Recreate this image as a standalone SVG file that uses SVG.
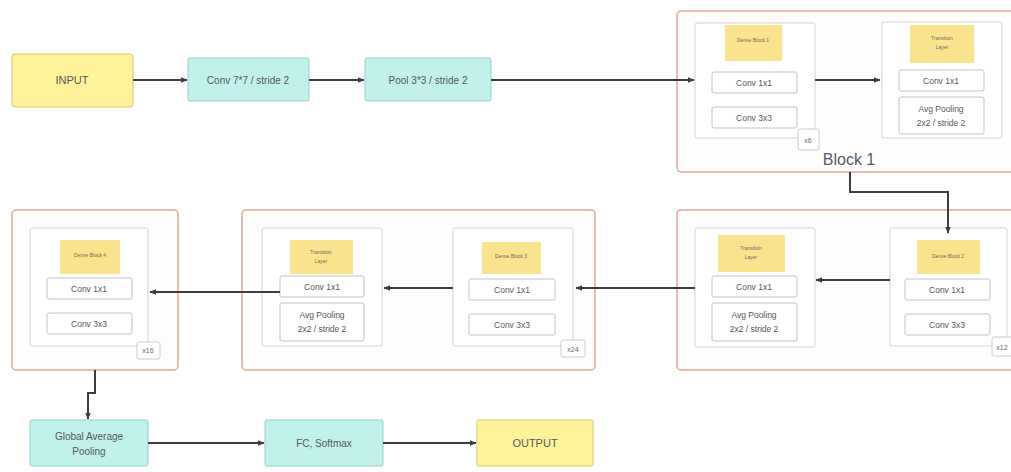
<svg xmlns="http://www.w3.org/2000/svg" width="1011" height="472" viewBox="0 0 1011 472">
<defs>
<marker id="ah" viewBox="0 0 10 10" refX="9" refY="5" markerWidth="7" markerHeight="7" markerUnits="userSpaceOnUse" orient="auto"><path d="M0,1 L10,5 L0,9 z" fill="#3d3d3d"/></marker>
<style>
text{font-family:"Liberation Sans",Arial,sans-serif;fill:#55575c;text-anchor:middle;dominant-baseline:central}
.io{fill:#fff39a;stroke:#d9c866;stroke-width:1}
.op{fill:#c2f1ec;stroke:#8fd3cb;stroke-width:1}
.outer{fill:#fffdfc;stroke:#e2a797;stroke-width:1.5}
.inner{fill:#ffffff;stroke:#ccd3de;stroke-width:1}
.sub{fill:#ffffff;stroke:#c3c3c3;stroke-width:1}
.note{fill:#fbe38d;stroke:none}
.tag{fill:#ffffff;stroke:#c8ccd4;stroke-width:1}
.big{font-size:11px}
.mid{font-size:10px}
.sm{font-size:8.5px}
.tiny{font-size:5px;fill:#6d6a55}
.conn{fill:none;stroke:#3d3d3d;stroke-width:2;marker-end:url(#ah)}
</style>
</defs>
<rect width="1011" height="472" fill="#ffffff"/>

<g id="input"><rect class="io" x="12" y="54" width="121" height="53" rx="3"/><text class="big" x="72" y="80">INPUT</text></g>
<g id="conv77"><rect class="op" x="188" y="58" width="121" height="43" rx="2"/><text class="mid" x="248" y="80">Conv 7*7 / stride 2</text></g>
<g id="pool33"><rect class="op" x="365" y="58" width="126" height="43" rx="2"/><text class="mid" x="428" y="80">Pool 3*3 / stride 2</text></g>

<g id="block1">
<rect class="outer" x="677" y="11" width="340" height="161" rx="4"/>
<text x="849" y="159" style="font-size:16px;fill:#4f5b6b">Block 1</text>
<g id="dense1">
<rect class="inner" x="695" y="23" width="120" height="115" rx="2"/>
<rect class="note" x="725" y="25" width="57" height="36"/>
<text class="tiny" x="753" y="40">Dense Block 1</text>
<rect class="sub" x="712" y="72" width="85" height="21" rx="2"/><text class="sm" x="754" y="83">Conv 1x1</text>
<rect class="sub" x="712" y="107" width="85" height="21" rx="2"/><text class="sm" x="754" y="118">Conv 3x3</text>
<rect class="tag" x="798" y="129" width="21" height="21" rx="2"/><text class="tiny" x="808" y="140" style="font-size:7px">x6</text>
</g>
<g id="trans1">
<rect class="inner" x="882" y="22" width="120" height="116" rx="2"/>
<rect class="note" x="910" y="25" width="64" height="38"/>
<text class="tiny" x="942" y="38">Transition</text><text class="tiny" x="942" y="47">Layer</text>
<rect class="sub" x="899" y="70" width="85" height="21" rx="2"/><text class="sm" x="941" y="81">Conv 1x1</text>
<rect class="sub" x="899" y="97" width="85" height="37" rx="2"/><text class="sm" x="941" y="109">Avg Pooling</text><text class="sm" x="941" y="123">2x2 / stride 2</text>
</g>
</g>

<g id="block2">
<rect class="outer" x="677" y="210" width="340" height="160" rx="4"/>
<g id="trans2">
<rect class="inner" x="695" y="228" width="120" height="119" rx="2"/>
<rect class="note" x="718" y="235" width="67" height="37"/>
<text class="tiny" x="751" y="248">Transition</text><text class="tiny" x="751" y="257">Layer</text>
<rect class="sub" x="712" y="276" width="85" height="21" rx="2"/><text class="sm" x="754" y="287">Conv 1x1</text>
<rect class="sub" x="712" y="303" width="85" height="38" rx="2"/><text class="sm" x="754" y="315">Avg Pooling</text><text class="sm" x="754" y="329">2x2 / stride 2</text>
</g>
<g id="dense2">
<rect class="inner" x="890" y="228" width="117" height="118" rx="2"/>
<rect class="note" x="917" y="240" width="63" height="34"/>
<text class="tiny" x="948" y="256">Dense Block 2</text>
<rect class="sub" x="905" y="279" width="85" height="21" rx="2"/><text class="sm" x="947" y="290">Conv 1x1</text>
<rect class="sub" x="905" y="314" width="85" height="21" rx="2"/><text class="sm" x="947" y="325">Conv 3x3</text>
<rect class="tag" x="992" y="337" width="24" height="19" rx="2"/><text class="tiny" x="1002" y="347" style="font-size:7px">x12</text>
</g>
</g>

<g id="block3">
<rect class="outer" x="242" y="210" width="353" height="160" rx="4"/>
<g id="trans3">
<rect class="inner" x="262" y="228" width="120" height="118" rx="2"/>
<rect class="note" x="290" y="240" width="63" height="34"/>
<text class="tiny" x="321" y="252">Transition</text><text class="tiny" x="321" y="261">Layer</text>
<rect class="sub" x="280" y="276" width="84" height="21" rx="2"/><text class="sm" x="322" y="287">Conv 1x1</text>
<rect class="sub" x="280" y="303" width="84" height="38" rx="2"/><text class="sm" x="322" y="315">Avg Pooling</text><text class="sm" x="322" y="329">2x2 / stride 2</text>
</g>
<g id="dense3">
<rect class="inner" x="453" y="228" width="120" height="118" rx="2"/>
<rect class="note" x="482" y="242" width="59" height="32"/>
<text class="tiny" x="511" y="256">Dense Block 3</text>
<rect class="sub" x="469" y="279" width="86" height="21" rx="2"/><text class="sm" x="512" y="290">Conv 1x1</text>
<rect class="sub" x="469" y="314" width="86" height="21" rx="2"/><text class="sm" x="512" y="325">Conv 3x3</text>
<rect class="tag" x="561" y="340" width="24" height="17" rx="2"/><text class="tiny" x="573" y="349" style="font-size:7px">x24</text>
</g>
</g>

<g id="block4">
<rect class="outer" x="12" y="210" width="166" height="160" rx="4"/>
<g id="dense4">
<rect class="inner" x="30" y="228" width="118" height="118" rx="2"/>
<rect class="note" x="60" y="240" width="60" height="34"/>
<text class="tiny" x="90" y="255">Dense Block 4</text>
<rect class="sub" x="47" y="278" width="85" height="21" rx="2"/><text class="sm" x="89" y="289">Conv 1x1</text>
<rect class="sub" x="47" y="313" width="85" height="21" rx="2"/><text class="sm" x="89" y="324">Conv 3x3</text>
<rect class="tag" x="137" y="342" width="23" height="17" rx="2"/><text class="tiny" x="148" y="350" style="font-size:7px">x16</text>
</g>
</g>

<g id="gap"><rect class="op" x="30" y="420" width="118" height="46" rx="2"/><text class="mid" x="89" y="436">Global Average</text><text class="mid" x="89" y="451">Pooling</text></g>
<g id="fc"><rect class="op" x="265" y="420" width="118" height="46" rx="2"/><text class="mid" x="324" y="443">FC, Softmax</text></g>
<g id="output"><rect class="io" x="477" y="420" width="116" height="46" rx="2"/><text class="big" x="535" y="443">OUTPUT</text></g>

<g id="connectors">
<path class="conn" d="M133,80 L187,80"/>
<path class="conn" d="M309,80 L364,80"/>
<path class="conn" d="M491,80 L694,80"/>
<path class="conn" d="M815,80 L880,80"/>
<path class="conn" d="M850,172 L850,192 L948,192 L948,233"/>
<path class="conn" d="M890,280 L816,280"/>
<path class="conn" d="M695,288 L576,288"/>
<path class="conn" d="M453,288 L384,288"/>
<path class="conn" d="M280,292 L150,292"/>
<path class="conn" d="M95,370 L95,393 L88,393 L88,419"/>
<path class="conn" d="M148,443 L264,443"/>
<path class="conn" d="M383,443 L476,443"/>
</g>
</svg>
